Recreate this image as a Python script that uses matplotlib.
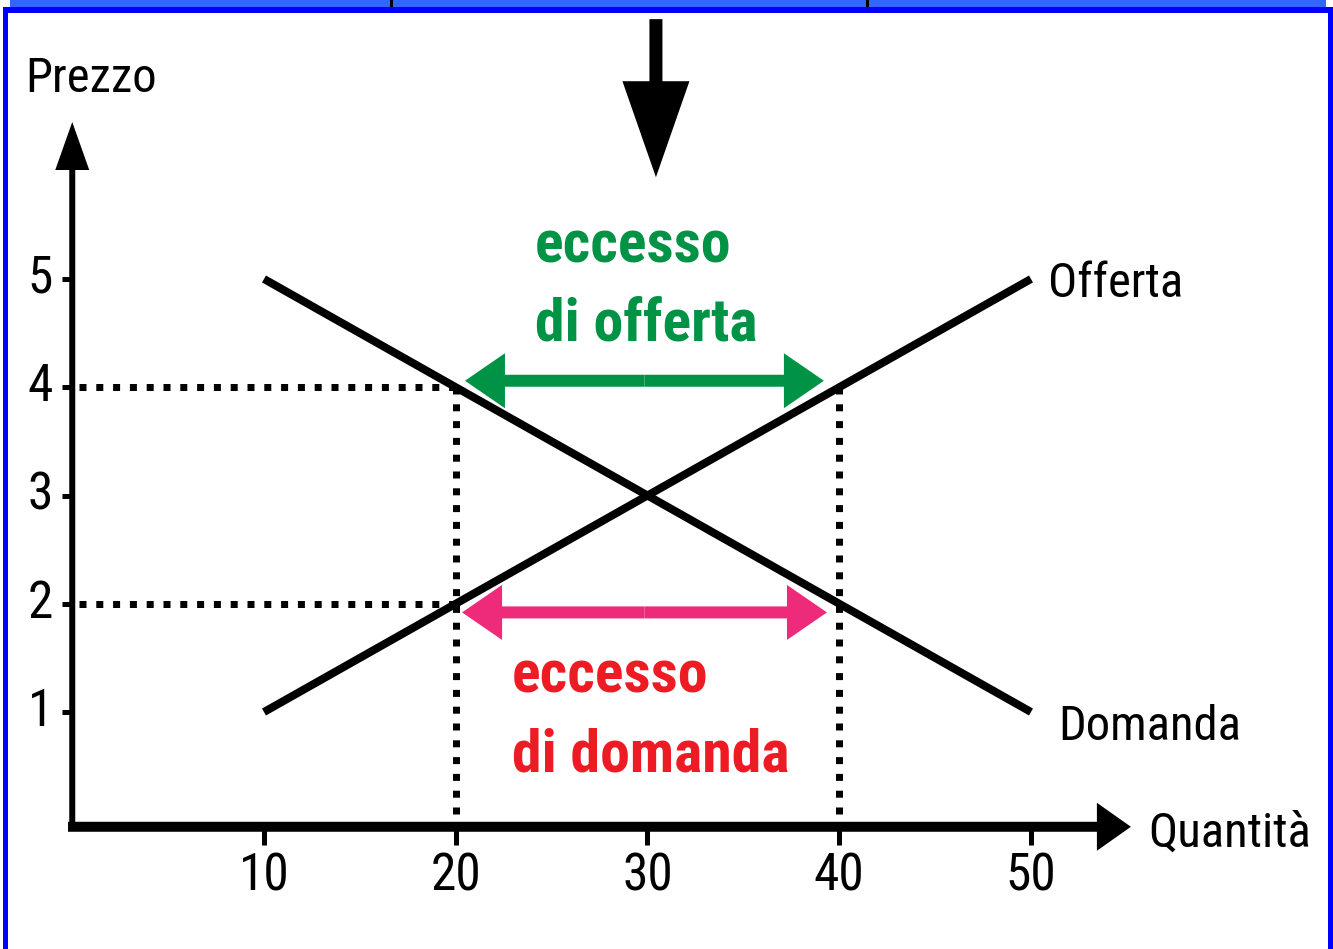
import matplotlib
matplotlib.use('Agg')
import matplotlib.pyplot as plt
from matplotlib.patches import Rectangle

plt.rcParams['font.family'] = ['Roboto Condensed', 'Archivo Narrow', 'DejaVu Sans']

# data
quantity_ticks = [10, 20, 30, 40, 50]
price_ticks = [1, 2, 3, 4, 5]
supply_q = [10, 50]
supply_p = [1, 5]
demand_q = [10, 50]
demand_p = [5, 1]
high_price = 4
low_price = 2
q_demand_high, q_supply_high = 20, 40   # at price 4
q_demand_low, q_supply_low = 40, 20     # at price 2

GREEN = '#009245'
RED = '#ED1C24'
PINK = '#EE2A7B'
PT = 72 / 100  # px -> pt


def arrow(ax, tail, tip, hl, hw, tw, color='black'):
    style = 'simple,head_length=%g,head_width=%g,tail_width=%g' % (hl * PT, hw * PT, tw * PT)
    ax.annotate('', xy=tip, xytext=tail,
                arrowprops=dict(arrowstyle=style, mutation_scale=1, shrinkA=0, shrinkB=0,
                                fc=color, ec='none', lw=0))


def frame_rect(x, y, w, h, color):
    # pixel box (from top-left) -> figure fraction
    fig.patches.append(Rectangle((x / 1333, 1 - (y + h) / 949), w / 1333, h / 949,
                                 transform=fig.transFigure, facecolor=color,
                                 edgecolor='none', lw=0))


fig = plt.figure(figsize=(13.33, 9.49), dpi=100)
ax = fig.add_axes([0, 0, 1, 1])
ax.set_xlim(-3.768, 65.75)
ax.set_ylim(-1.189, 7.577)
ax.axis('off')

# frame
frame_rect(10, 0, 1316, 7, '#3366FF')
frame_rect(390, 0, 3, 7, 'black')
frame_rect(866, 0, 3, 7, 'black')
frame_rect(3, 7, 1330, 6, '#0000FF')
frame_rect(3, 7, 5, 942, '#0000FF')
frame_rect(1328, 7, 5, 942, '#0000FF')

axis_p = -0.06
# axes with arrows
arrow(ax, (0, axis_p), (0, 6.45), 48, 34, 6)
arrow(ax, (-0.22, axis_p), (55.21, axis_p), 34, 48, 10)

# ticks
ax.vlines(quantity_ticks, axis_p, -0.23, color='black', lw=5 * PT)
ax.hlines(price_ticks, -0.53, 0, color='black', lw=5 * PT)
for q in quantity_ticks:
    ax.text(q, -0.52, str(q), fontsize=37, ha='center', va='center')
for p in price_ticks:
    ax.text(-1.0, p, str(p), fontsize=37, ha='right', va='center')

# dotted guides
dot = dict(color='black', lw=7 * PT, linestyle=(0, (1, 1.4)), dash_capstyle='butt')
ax.plot([0.35, q_demand_high], [high_price, high_price], **dot)
ax.plot([0.35, q_supply_low], [low_price, low_price], **dot)
ax.plot([q_demand_high, q_demand_high], [high_price, axis_p + 0.05], **dot)
ax.plot([q_supply_high, q_supply_high], [high_price, axis_p + 0.05], **dot)

# curves
ax.plot(demand_q, demand_p, color='black', lw=8 * PT, solid_capstyle='butt')
ax.plot(supply_q, supply_p, color='black', lw=8 * PT, solid_capstyle='butt')

# excess arrows
mid_hi = (20.48 + 39.2) / 2
arrow(ax, (mid_hi, 4.06), (20.48, 4.06), 40, 55, 12, GREEN)
arrow(ax, (mid_hi, 4.06), (39.2, 4.06), 40, 55, 12, GREEN)
mid_lo = (20.33 + 39.36) / 2
arrow(ax, (mid_lo, 1.92), (20.33, 1.92), 40, 55, 12, PINK)
arrow(ax, (mid_lo, 1.92), (39.36, 1.92), 40, 55, 12, PINK)

# top arrow
arrow(ax, (30.44, 7.40), (30.44, 5.94), 96, 67, 13)

# labels
ax.text(-2.46, 6.727, 'Prezzo', fontsize=35, va='baseline')
ax.text(56.1, -0.24, 'Quantità', fontsize=35, va='baseline')
ax.text(50.89, 4.83, 'Offerta', fontsize=35, va='baseline')
ax.text(51.41, 0.74, 'Domanda', fontsize=35, va='baseline')

bold = dict(fontsize=43, fontweight='bold', va='baseline')
ax.text(24.13, 5.15, 'eccesso', color=GREEN, **bold)
ax.text(24.13, 4.43, 'di offerta', color=GREEN, **bold)
ax.text(22.93, 1.176, 'eccesso', color=RED, **bold)
ax.text(22.93, 0.446, 'di domanda', color=RED, **bold)

fig.savefig('out.png', dpi=100)
